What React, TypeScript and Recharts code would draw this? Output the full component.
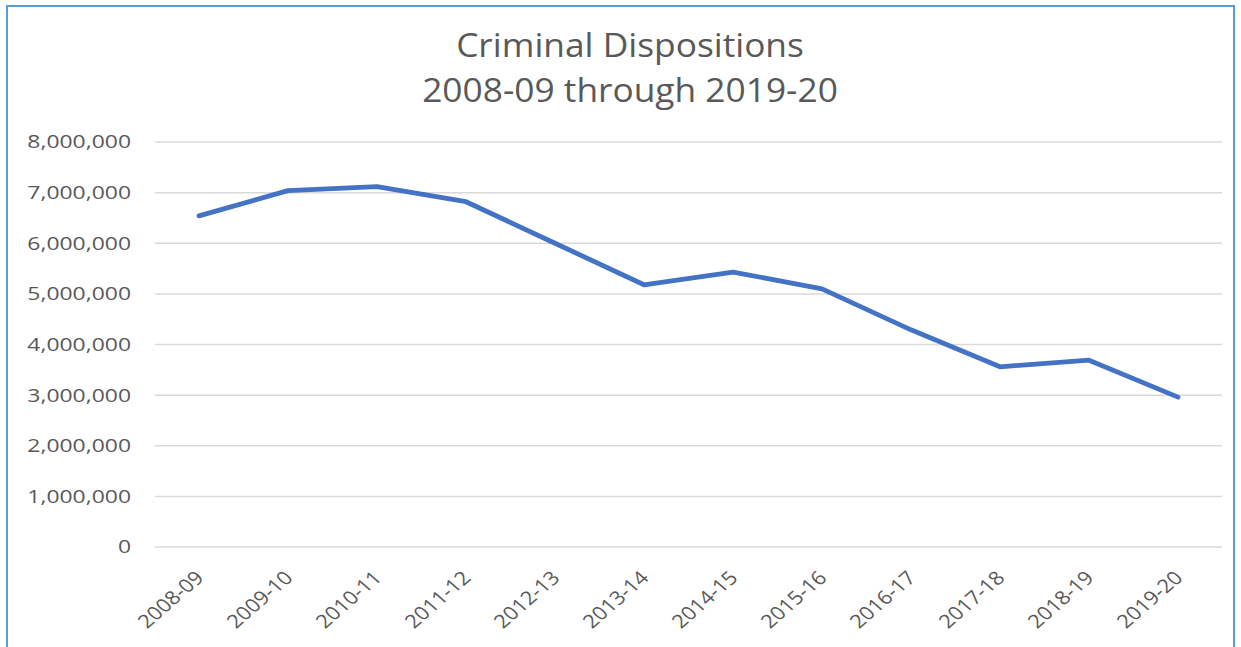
import React from "react";
import { LineChart, Line, XAxis, YAxis, CartesianGrid } from "recharts";

const categories = ["2008-09","2009-10","2010-11","2011-12","2012-13","2013-14","2014-15","2015-16","2016-17","2017-18","2018-19","2019-20"];
const dispositions = [6540000,7040000,7120000,6820000,6000000,5180000,5430000,5100000,4290000,3560000,3690000,2960000];
const yTicks = [0,1000000,2000000,3000000,4000000,5000000,6000000,7000000,8000000];
const titleLines = ["Criminal Dispositions","2008-09 through 2019-20"];

const data = categories.map((c, i) => ({ name: c, value: dispositions[i] }));
const FONT = "'Open Sans', 'Liberation Sans', sans-serif";

const XTick = (props: any) => {
  const { x, y, payload } = props;
  return (
    <g transform={`translate(${x + 6},${y + 24}) scale(1.15,1)`}>
      <text textAnchor="end" transform="rotate(-45)" fill="#595959" fontSize={19} fontFamily={FONT}>
        {payload.value}
      </text>
    </g>
  );
};

const YTick = (props: any) => {
  const { x, y, payload } = props;
  return (
    <g transform={`translate(${x},${y}) scale(1.24,1)`}>
      <text textAnchor="end" dy="0.35em" fill="#595959" fontSize={18.5} fontFamily={FONT}>
        {Number(payload.value).toLocaleString("en-US")}
      </text>
    </g>
  );
};

export default function App() {
  return (
    <div style={{ position: "absolute", left: 0, top: 0, width: 1241, height: 647, overflow: "hidden", background: "#fff" }}>
      <div style={{ position: "absolute", left: 6, top: 5, width: 1229, height: 700, border: "2px solid #5B9BD5", boxSizing: "border-box" }} />
      <div style={{ position: "absolute", left: 630, top: 22, width: 0, fontFamily: FONT, fontSize: 33, color: "#595959", lineHeight: "45px" }}>
        {titleLines.map((t) => (
          <div key={t} style={{ position: "relative", width: 0, height: 45 }}>
            <div style={{ position: "absolute", left: 0, top: 0, whiteSpace: "nowrap", transform: "translateX(-50%) scaleX(1.07)", transformOrigin: "50% 50%" }}>
              {t}
            </div>
          </div>
        ))}
      </div>
      <div style={{ position: "absolute", left: 0, top: 0 }}>
        <LineChart width={1241} height={647} data={data} margin={{ top: 142, right: 19, bottom: 10, left: 15 }}>
          <CartesianGrid vertical={false} stroke="#d9d9d9" strokeWidth={1.5} />
          <XAxis dataKey="name" axisLine={false} tickLine={false} tick={<XTick />} height={90} interval={0} padding={{ left: 44, right: 44 }} />
          <YAxis
            domain={[0, 8000000]}
            ticks={yTicks}
            axisLine={false}
            tickLine={false}
            width={140}
            tickMargin={18}
            tick={<YTick />}
          />
          <Line type="linear" dataKey="value" stroke="#4472C4" strokeWidth={4.8} dot={false} isAnimationActive={false} strokeLinejoin="round" strokeLinecap="round" />
        </LineChart>
      </div>
    </div>
  );
}
